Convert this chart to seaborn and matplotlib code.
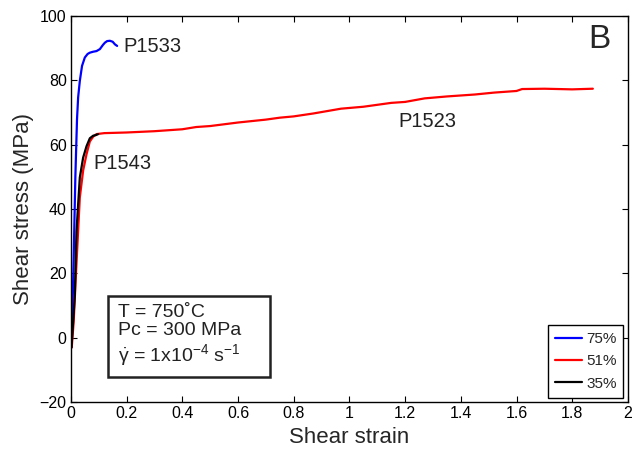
import numpy as np
import pandas as pd
import matplotlib
matplotlib.use("Agg")
import matplotlib.pyplot as plt
import matplotlib.patches as patches
import seaborn as sns

# ── Data ─────────────────────────────────────────────────────────────────────
# P1523 (51%)
strain_51 = [0.003, 0.01, 0.02, 0.032, 0.044, 0.056, 0.068, 0.08, 0.092, 0.12,
             0.2, 0.3, 0.4, 0.45, 0.5, 0.6, 0.7, 0.75, 0.8, 0.87, 0.97, 1.05,
             1.15, 1.2, 1.27, 1.35, 1.45, 1.52, 1.6, 1.62, 1.7, 1.8, 1.874]
stress_51 = [-3, 5, 23, 43.6, 52, 57, 61, 62.5, 63.3, 63.6,
             63.8, 64.2, 64.8, 65.5, 65.8, 66.9, 67.8, 68.4, 68.8, 69.7, 71.2, 71.8,
             73.0, 73.3, 74.4, 75.0, 75.6, 76.2, 76.7, 77.3, 77.4, 77.2, 77.4]

# P1543 (35%)
strain_35 = [0.002, 0.008, 0.014, 0.02, 0.032, 0.044, 0.056, 0.068, 0.08, 0.09, 0.098]
stress_35 = [-3, 5, 13, 33, 49.8, 56, 59.5, 62, 62.8, 63.0, 63.3]

# P1533 (75%)
strain_75 = [0.002, 0.006, 0.01, 0.016, 0.022, 0.026, 0.032, 0.04, 0.05, 0.06,
             0.068, 0.08, 0.092, 0.104, 0.115, 0.122, 0.13, 0.14, 0.15, 0.158, 0.166]
stress_75 = [-3, 10, 25, 50, 68, 74.7, 79.8, 84.5, 87.1, 88.2,
             88.6, 88.9, 89.1, 89.7, 91, 91.7, 92.2, 92.3, 92.0, 91.2, 90.7]

labels = ["75%", "51%", "35%"]
colors = ["#0000ff", "#ff0000", "#000000"]

x_ticks = [0, 0.2, 0.4, 0.6, 0.8, 1, 1.2, 1.4, 1.6, 1.8, 2]
x_tick_labels = ["0", "0.2", "0.4", "0.6", "0.8", "1", "1.2", "1.4", "1.6", "1.8", "2"]
y_ticks = [-20, 0, 20, 40, 60, 80, 100]

df = pd.concat([
    pd.DataFrame({"strain": strain_75, "stress": stress_75, "sample": "75%"}),
    pd.DataFrame({"strain": strain_51, "stress": stress_51, "sample": "51%"}),
    pd.DataFrame({"strain": strain_35, "stress": stress_35, "sample": "35%"}),
], ignore_index=True)

# ── Style ────────────────────────────────────────────────────────────────────
sns.set_style("ticks")
plt.rcParams["font.family"] = ["Liberation Sans", "DejaVu Sans"]
plt.rcParams["mathtext.fontset"] = "custom"
plt.rcParams["mathtext.rm"] = "Liberation Sans"
plt.rcParams["mathtext.it"] = "Liberation Sans"

fig, ax = plt.subplots(figsize=(6.33, 4.57), dpi=100)
fig.subplots_adjust(left=0.112, right=0.992, bottom=0.12, top=0.965)

sns.lineplot(data=df, x="strain", y="stress", hue="sample", hue_order=labels,
             palette=dict(zip(labels, colors)), sort=False, estimator=None,
             linewidth=1.6, ax=ax)

ax.set_xlim(0, 2)
ax.set_ylim(-20, 100)
ax.set_xticks(x_ticks)
ax.set_xticklabels(x_tick_labels)
ax.set_yticks(y_ticks)
ax.tick_params(direction="in", length=4, width=0.8, labelsize=11.5,
               top=True, right=True, colors="black", pad=3)
for s in ax.spines.values():
    s.set_visible(True)
    s.set_color("black")
    s.set_linewidth(1.0)

ax.set_xlabel("Shear strain", fontsize=16, labelpad=4)
ax.set_ylabel("Shear stress (MPa)", fontsize=16, labelpad=4)

# sample labels
ax.text(0.19, 90.4, "P1533", fontsize=14.5, va="center", color="#222222")
ax.text(0.079, 54.2, "P1543", fontsize=14.5, va="center", color="#222222")
ax.text(1.174, 67.2, "P1523", fontsize=14.5, va="center", color="#222222")
ax.text(0.968, 0.98, "B", transform=ax.transAxes, fontsize=24,
        ha="right", va="top")

# conditions box
ax.add_patch(patches.Rectangle((0.133, -12.3), 0.582, 25.4, facecolor="white",
                               edgecolor="#222222", linewidth=1.8, zorder=3))
cond = "T = 750˚C\nPc = 300 MPa\n" + r"$\dot{\gamma}$ = 1x10$^{-4}$ s$^{-1}$"
ax.text(0.168, 0.6, cond, fontsize=14, va="center", ha="left",
        linespacing=1.15, zorder=4, color="#222222")

leg = ax.legend(loc="lower right", fontsize=11, frameon=True, fancybox=False,
                edgecolor="black", framealpha=1, handlelength=1.8,
                handletextpad=0.25, borderpad=0.45, labelspacing=0.55,
                borderaxespad=0.3, title=None)
leg.get_frame().set_linewidth(1.0)

plt.savefig("out.png", dpi=100)
